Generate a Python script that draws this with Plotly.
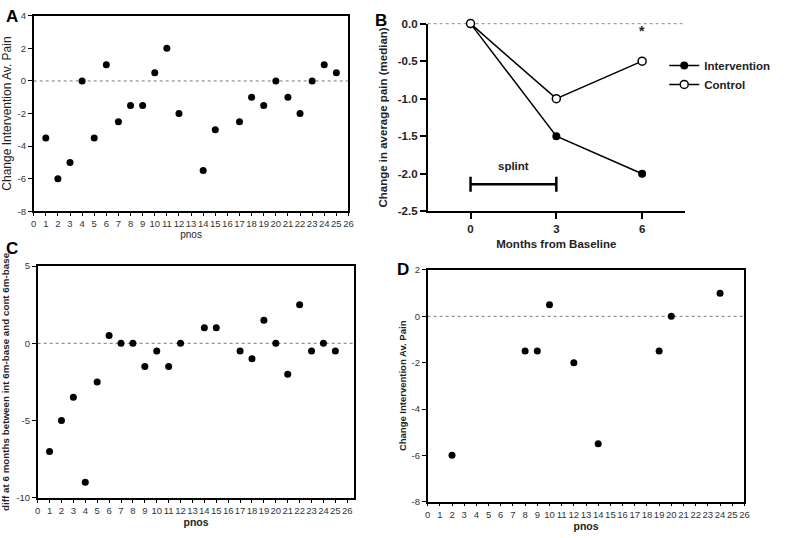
import plotly.graph_objects as go

# Panel A data
a_pnos = [1, 2, 3, 4, 5, 6, 7, 8, 9, 10, 11, 12, 14, 15, 17, 18, 19, 20, 21, 22, 23, 24, 25]
a_change = [-3.5, -6, -5, 0, -3.5, 1, -2.5, -1.5, -1.5, 0.5, 2, -2, -5.5, -3, -2.5, -1, -1.5, 0, -1, -2, 0, 1, 0.5]

# Panel B data
b_months = [0, 3, 6]
b_intervention = [0, -1.5, -2.0]
b_control = [0, -1.0, -0.5]
splint_start, splint_end, splint_y = 0, 3, -2.14
splint_cap = 0.1

# Panel C data
c_pnos = [1, 2, 3, 4, 5, 6, 7, 8, 9, 10, 11, 12, 14, 15, 17, 18, 19, 20, 21, 22, 23, 24, 25]
c_diff = [-7, -5, -3.5, -9, -2.5, 0.5, 0, 0, -1.5, -0.5, -1.5, 0, 1, 1, -0.5, -1, 1.5, 0, -2, 2.5, -0.5, 0, -0.5]

# Panel D data
d_pnos = [2, 8, 9, 10, 12, 14, 19, 20, 24]
d_change = [-6, -1.5, -1.5, 0.5, -2, -5.5, -1.5, 0, 1]

pnos_ticks = list(range(0, 27))

W, H = 789, 538
def px(x): return x / W
def py(y): return 1 - y / H

FONT = "Liberation Sans, Arial, sans-serif"
fig = go.Figure()

mk = dict(color="black", size=7)
fig.add_trace(go.Scatter(x=a_pnos, y=a_change, mode="markers", marker=mk,
                         xaxis="x", yaxis="y", showlegend=False, cliponaxis=False))
fig.add_trace(go.Scatter(x=b_months, y=b_intervention, mode="lines+markers", name="<b>Intervention</b>",
                         marker=dict(color="black", size=8), line=dict(color="black", width=1.5),
                         xaxis="x2", yaxis="y2", cliponaxis=False))
fig.add_trace(go.Scatter(x=b_months, y=b_control, mode="lines+markers", name="<b>Control</b>",
                         marker=dict(color="white", size=8, line=dict(color="black", width=1.5)),
                         line=dict(color="black", width=1.5),
                         xaxis="x2", yaxis="y2", cliponaxis=False))
fig.add_trace(go.Scatter(
    x=[splint_start, splint_end, None, splint_start, splint_start, None, splint_end, splint_end],
    y=[splint_y, splint_y, None, splint_y - splint_cap, splint_y + splint_cap, None,
       splint_y - splint_cap, splint_y + splint_cap],
    mode="lines", line=dict(color="black", width=2.5), xaxis="x2", yaxis="y2",
    showlegend=False, hoverinfo="skip"))
fig.add_trace(go.Scatter(x=c_pnos, y=c_diff, mode="markers", marker=mk,
                         xaxis="x3", yaxis="y3", showlegend=False, cliponaxis=False))
fig.add_trace(go.Scatter(x=d_pnos, y=d_change, mode="markers", marker=mk,
                         xaxis="x4", yaxis="y4", showlegend=False, cliponaxis=False))

tickfont = dict(family=FONT, size=9.5, color="#333")

def xaxis(dom, anchor, rng, tickvals, title, bold, mirror=True, ticklen=3, standoff=2):
    return dict(domain=dom, anchor=anchor, range=rng, tickvals=tickvals,
                ticktext=[str(t) for t in tickvals], showgrid=False, zeroline=False,
                showline=True, linecolor="black", linewidth=1.5, mirror=mirror,
                ticks="outside", ticklen=ticklen, tickcolor="black", tickangle=0,
                tickfont=tickfont,
                title=dict(text=("<b>%s</b>" % title) if bold else title,
                           font=dict(family=FONT, size=10.5 if bold else 10, color="#222"),
                           standoff=standoff))

def yaxis(dom, anchor, rng, tickvals, ticktext, title, bold, size, mirror=True, standoff=6):
    return dict(domain=dom, anchor=anchor, range=rng, tickvals=tickvals, ticktext=ticktext,
                showgrid=False, zeroline=False, showline=True, linecolor="black", linewidth=1.5,
                mirror=mirror, ticks="outside", ticklen=4, tickcolor="black", tickfont=tickfont,
                title=dict(text=("<b>%s</b>" % title) if bold else title,
                           font=dict(family=FONT, size=size, color="#222"), standoff=standoff))

a_y = [-8, -6, -4, -2, 0, 2, 4]
c_y = [-10, -5, 0, 5]
d_y = [-8, -6, -4, -2, 0, 2]
b_y = [-2.5, -2.0, -1.5, -1.0, -0.5, 0.0]

bfont = dict(family=FONT, size=11.5, color="#222")

fig.update_layout(
    width=W, height=H, margin=dict(l=0, r=0, t=0, b=0),
    paper_bgcolor="white", plot_bgcolor="white",
    font=dict(family=FONT),
    xaxis=xaxis([px(31), px(349)], "y", [0, 26], pnos_ticks, "pnos", False),
    yaxis=yaxis([py(210), py(10)], "x", [-8, 4], a_y, [str(v) for v in a_y],
                "Change Intervention Av. Pain", False, 12, standoff=7),
    xaxis2=dict(domain=[px(429), px(689)], anchor="y2", range=[-1.5, 7.5], tickvals=b_months,
                ticktext=["<b>%d</b>" % m for m in b_months], showgrid=False, zeroline=False,
                showline=True, linecolor="black", linewidth=1.5, ticks="outside", ticklen=6,
                tickwidth=1.5, tickcolor="black", tickfont=bfont,
                title=dict(text="<b>Months from Baseline</b>", font=bfont, standoff=6)),
    yaxis2=dict(domain=[py(210), py(18)], anchor="x2", range=[-2.5, 0], tickvals=b_y,
                ticktext=["<b>%.1f</b>" % v for v in b_y], showgrid=False, zeroline=False,
                showline=True, linecolor="black", linewidth=1.5, ticks="outside", ticklen=6,
                tickwidth=1.5, tickcolor="black", tickfont=bfont,
                title=dict(text="<b>Change in average pain (median)</b>", font=bfont, standoff=8)),
    xaxis3=xaxis([px(35), px(355)], "y3", [0, 26.6], pnos_ticks, "pnos", True),
    yaxis3=yaxis([py(503), py(266)], "x3", [-10, 5], c_y, [str(v) for v in c_y],
                 "diff at 6 months between int 6m-base and cont 6m-base", True, 9.8, standoff=8),
    xaxis4=xaxis([px(429), px(749)], "y4", [0, 26], pnos_ticks, "pnos", True),
    yaxis4=yaxis([py(507), py(270)], "x4", [-8, 2], d_y, [str(v) for v in d_y],
                 "Change Intervention Av. Pain", True, 9.5, standoff=3),
    legend=dict(x=px(668), y=py(46), xanchor="left", yanchor="top",
                font=bfont, bgcolor="rgba(0,0,0,0)",
                itemwidth=30, tracegroupgap=0),
)

# dotted zero lines
for xr, yr, col in [("x domain", "y", "#777"), ("x2 domain", "y2", "#333"),
                    ("x3 domain", "y3", "#777"), ("x4 domain", "y4", "#777")]:
    fig.add_shape(type="line", xref=xr, yref=yr, x0=0, x1=1, y0=0, y1=0,
                  line=dict(color=col, width=1, dash="dot"), layer="below")

# annotations
fig.add_annotation(x=(splint_start + splint_end) / 2, y=splint_y + 0.14, xref="x2", yref="y2",
                   text="<b>splint</b>", showarrow=False, yanchor="bottom", font=bfont)
fig.add_annotation(x=b_months[2], y=-0.07, xref="x2", yref="y2", text="<b>*</b>", yshift=8,
                   showarrow=False, yanchor="top", font=dict(family=FONT, size=14, color="#222"))

for lab, x, y in [("A", 9, 11), ("B", 382, 15), ("C", 9, 248), ("D", 404, 270)]:
    fig.add_annotation(x=px(x), y=py(y), xref="paper", yref="paper", text="<b>%s</b>" % lab,
                       showarrow=False, xanchor="center", yanchor="middle",
                       font=dict(family=FONT, size=17, color="black"))

fig.write_html("out.html", config={"displayModeBar": False},
               post_script="document.body.style.margin='0';document.body.style.padding='0';")
